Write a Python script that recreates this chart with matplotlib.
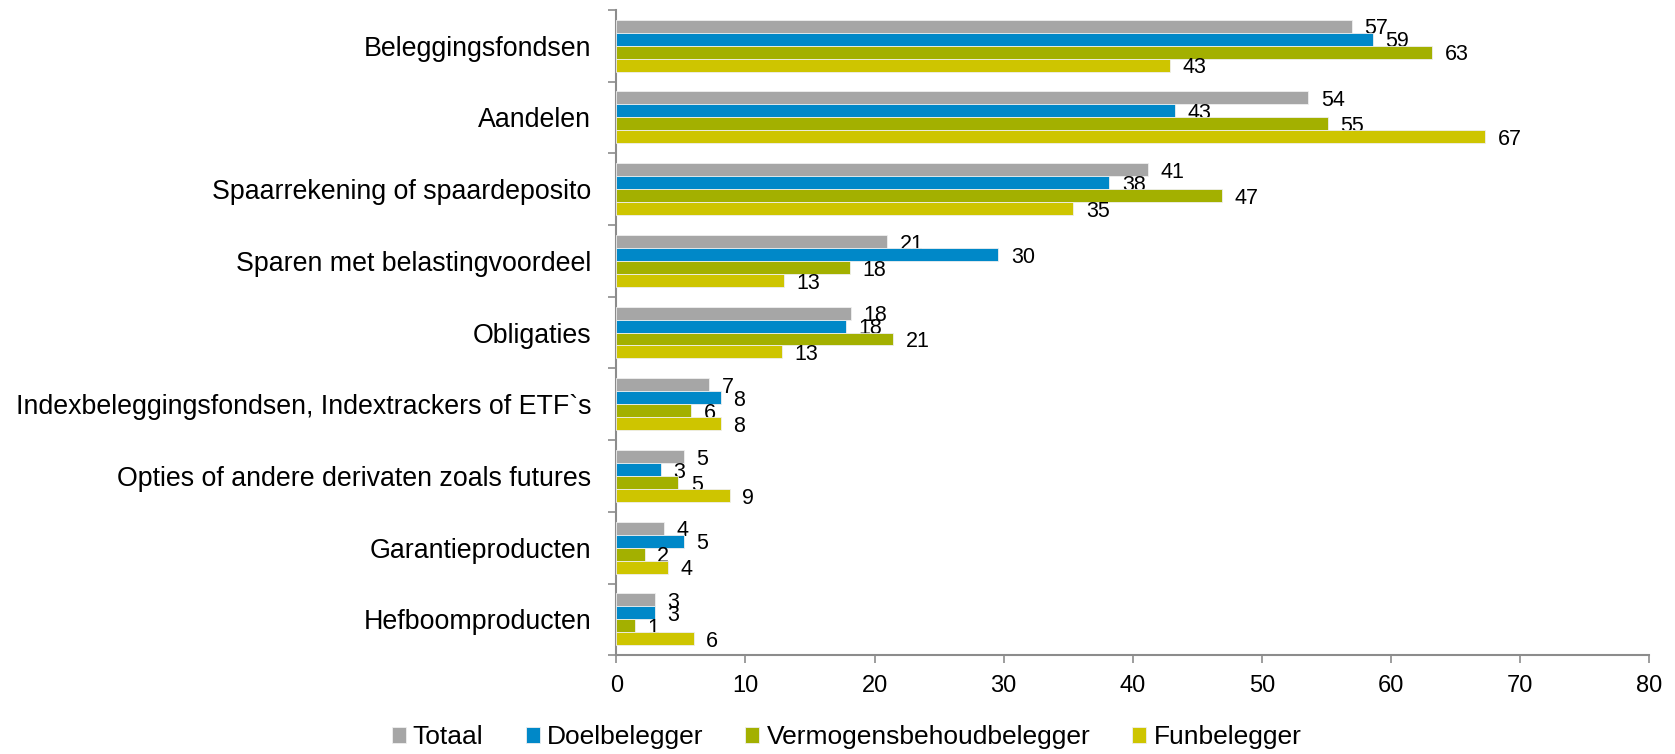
import matplotlib.pyplot as plt
import numpy as np
from matplotlib.ticker import FixedLocator, MultipleLocator

plt.rcParams["font.family"] = ["Liberation Sans", "DejaVu Sans"]

CATEGORIES = [
    "Beleggingsfondsen",
    "Aandelen",
    "Spaarrekening of spaardeposito",
    "Sparen met belastingvoordeel",
    "Obligaties",
    "Indexbeleggingsfondsen, Indextrackers of ETF`s",
    "Opties of andere derivaten zoals futures",
    "Garantieproducten",
    "Hefboomproducten",
]

SERIES = ["Totaal", "Doelbelegger", "Vermogensbehoudbelegger", "Funbelegger"]

totaal = [57.0, 53.6, 41.2, 21.0, 18.2, 7.2, 5.2, 3.7, 3.0]
doel = [58.6, 43.3, 38.2, 29.6, 17.8, 8.1, 3.45, 5.2, 3.0]
vermogen = [63.2, 55.1, 46.9, 18.1, 21.45, 5.8, 4.8, 2.2, 1.45]
fun = [42.9, 67.3, 35.4, 13.0, 12.8, 8.1, 8.8, 4.0, 6.0]

COLORS = ["#A6A6A6", "#0088C8", "#A3B000", "#CEC500"]
AXIS_COLOR = "#8C8C8C"

fig = plt.figure(figsize=(16.75, 7.54), dpi=100)
ax = fig.add_axes([0.368, 0.131, 0.6165, 0.856])

bar_h = 0.181
y = np.arange(len(CATEGORIES))
values = [totaal, doel, vermogen, fun]

for i, (name, vals, color) in enumerate(zip(SERIES, values, COLORS)):
    offset = (i - 1.5) * bar_h
    bars = ax.barh(
        y + offset,
        vals,
        height=bar_h,
        color=color,
        edgecolor="#EFEFEF",
        linewidth=0.6,
        label=name,
        zorder=3,
    )
    for bar, v in zip(bars, vals):
        ax.annotate(
            f"{v:.0f}",
            (bar.get_width(), bar.get_y() + bar.get_height() / 2),
            xytext=(9, -2),
            textcoords="offset points",
            ha="left",
            va="center",
            fontsize=15.5,
            color="black",
        )

ax.set_ylim(len(CATEGORIES) - 0.5, -0.5)
ax.set_xlim(0, 80)
ax.xaxis.set_major_locator(MultipleLocator(10))
ax.set_yticks(y)
ax.set_yticklabels(CATEGORIES, fontsize=19.3)
ax.yaxis.set_minor_locator(FixedLocator(np.arange(-0.5, len(CATEGORIES), 1.0)))
ax.tick_params(axis="y", which="major", length=0, pad=18)
ax.tick_params(axis="y", which="minor", length=6, width=1.2, color=AXIS_COLOR)
ax.tick_params(axis="x", length=6, width=1.2, color=AXIS_COLOR, labelsize=17, pad=8)

for side in ("top", "right"):
    ax.spines[side].set_visible(False)
for side in ("left", "bottom"):
    ax.spines[side].set_color(AXIS_COLOR)
    ax.spines[side].set_linewidth(1.5)

fig.legend(
    loc="center",
    bbox_to_anchor=(0.5054, 0.022),
    ncol=4,
    frameon=False,
    fontsize=19,
    handlelength=0.53,
    handleheight=0.53,
    handletextpad=0.27,
    columnspacing=1.6,
    borderpad=0,
)

fig.savefig("out.png", dpi=100, facecolor="white")
